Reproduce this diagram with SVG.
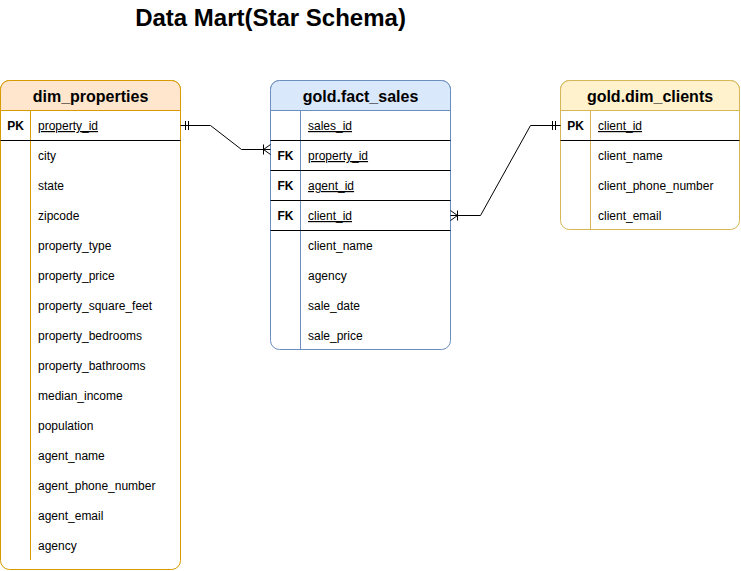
<svg xmlns="http://www.w3.org/2000/svg" width="741" height="571" viewBox="0 0 741 571">
<style>
text{font-family:"Liberation Sans",Arial,sans-serif;fill:#000}
.t{font-size:16px;font-weight:bold;text-anchor:middle}
.f{font-size:12px}
.k{font-size:12px;font-weight:bold;text-anchor:middle}
.u{text-decoration:underline}
.sep{stroke:#000;stroke-width:1;fill:none}
.c{stroke:#000;stroke-width:1;fill:none}
</style>
<rect width="741" height="571" fill="#fff"/>
<text x="270.5" y="26" style="font-size:24px;font-weight:bold;text-anchor:middle">Data Mart(Star Schema)</text>

<g id="dim_properties">
<rect x="0.5" y="80.5" width="180" height="489" rx="9" fill="#fff" stroke="#d79b00"/>
<path d="M0.5 110.5V89.5a9 9 0 0 1 9-9H171.5a9 9 0 0 1 9 9V110.5Z" fill="#ffe6cc" stroke="#d79b00"/>
<line x1="30.5" y1="110.5" x2="30.5" y2="560" stroke="#d79b00"/>
<line class="sep" x1="0.5" y1="140.5" x2="180.5" y2="140.5"/>
<text class="t" x="90.5" y="102">dim_properties</text>
<text class="k" x="15.5" y="130">PK</text>
<text class="f u" x="38" y="130">property_id</text>
<text class="f" x="38" y="160">city</text>
<text class="f" x="38" y="190">state</text>
<text class="f" x="38" y="220">zipcode</text>
<text class="f" x="38" y="250">property_type</text>
<text class="f" x="38" y="280">property_price</text>
<text class="f" x="38" y="310">property_square_feet</text>
<text class="f" x="38" y="340">property_bedrooms</text>
<text class="f" x="38" y="370">property_bathrooms</text>
<text class="f" x="38" y="400">median_income</text>
<text class="f" x="38" y="430">population</text>
<text class="f" x="38" y="460">agent_name</text>
<text class="f" x="38" y="490">agent_phone_number</text>
<text class="f" x="38" y="520">agent_email</text>
<text class="f" x="38" y="550">agency</text>
</g>

<g id="fact_sales">
<rect x="270.5" y="80.5" width="180" height="269" rx="9" fill="#fff" stroke="#6c8ebf"/>
<path d="M270.5 110.5V89.5a9 9 0 0 1 9-9H441.5a9 9 0 0 1 9 9V110.5Z" fill="#dae8fc" stroke="#6c8ebf"/>
<line x1="300.5" y1="110.5" x2="300.5" y2="349.5" stroke="#6c8ebf"/>
<line class="sep" x1="270.5" y1="140.5" x2="450.5" y2="140.5"/>
<line class="sep" x1="270.5" y1="170.5" x2="450.5" y2="170.5"/>
<line class="sep" x1="270.5" y1="200.5" x2="450.5" y2="200.5"/>
<line class="sep" x1="270.5" y1="230.5" x2="450.5" y2="230.5"/>
<text class="t" x="360.5" y="102">gold.fact_sales</text>
<text class="f u" x="308" y="130">sales_id</text>
<text class="k" x="285.5" y="160">FK</text>
<text class="f u" x="308" y="160">property_id</text>
<text class="k" x="285.5" y="190">FK</text>
<text class="f u" x="308" y="190">agent_id</text>
<text class="k" x="285.5" y="220">FK</text>
<text class="f u" x="308" y="220">client_id</text>
<text class="f" x="308" y="250">client_name</text>
<text class="f" x="308" y="280">agency</text>
<text class="f" x="308" y="310">sale_date</text>
<text class="f" x="308" y="340">sale_price</text>
</g>

<g id="dim_clients">
<rect x="560.5" y="80.5" width="179" height="149" rx="9" fill="#fff" stroke="#d6b656"/>
<path d="M560.5 110.5V89.5a9 9 0 0 1 9-9H730.5a9 9 0 0 1 9 9V110.5Z" fill="#fff2cc" stroke="#d6b656"/>
<line x1="590.5" y1="110.5" x2="590.5" y2="229.5" stroke="#d6b656"/>
<line class="sep" x1="560.5" y1="140.5" x2="739.5" y2="140.5"/>
<text class="t" x="650" y="102">gold.dim_clients</text>
<text class="k" x="575.5" y="130">PK</text>
<text class="f u" x="598" y="130">client_id</text>
<text class="f" x="598" y="160">client_name</text>
<text class="f" x="598" y="190">client_phone_number</text>
<text class="f" x="598" y="220">client_email</text>
</g>

<g id="connectors">
<path class="c" d="M180.5 125.5H210.5L241.5 149.5H270.5"/>
<path class="c" d="M185.5 121V130M188.5 121V130"/>
<path class="c" d="M263.5 144.5V154.5M270.5 144.5L263.5 149.5L270.5 154.5"/>
<path class="c" d="M450.5 215.5H480.5L530.5 125.5H560.5"/>
<path class="c" d="M552.5 121V130M555.5 121V130"/>
<path class="c" d="M457.5 210.5V220.5M450.5 210.5L457.5 215.5L450.5 220.5"/>
</g>
</svg>
